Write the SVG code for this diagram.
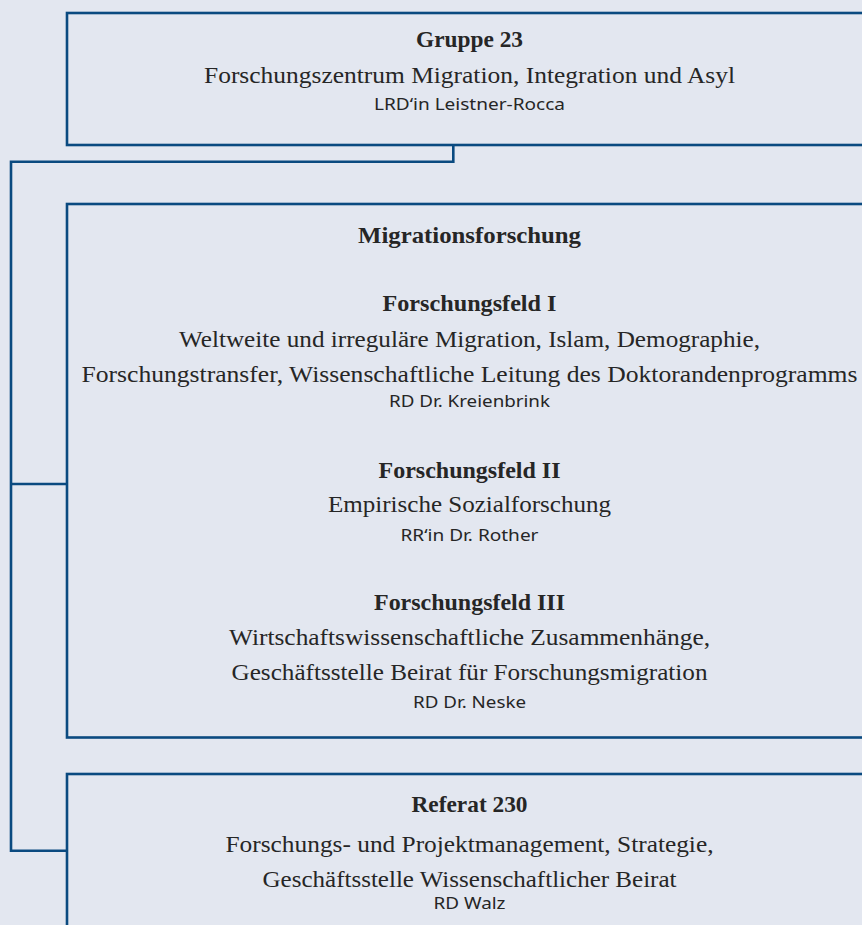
<svg xmlns="http://www.w3.org/2000/svg" width="862" height="925" viewBox="0 0 862 925">
<style>
.box{fill:none;stroke:#0a4a80;stroke-width:2.6}
.con{fill:none;stroke:#0a4a80;stroke-width:2.6}
text{text-anchor:middle;fill:#262626}
.h{font-family:"Liberation Serif",serif;font-weight:bold;font-size:23.5px}
.t{font-family:"Liberation Serif",serif;font-size:24px}
.p{font-family:"Noto Sans","Open Sans",sans-serif;font-size:15.5px}
</style>
<rect width="862" height="925" fill="#e3e7f0"/>
<g id="connectors">
<path class="con" d="M453.3,145 V161.7 H11 V850.7 H67"/>
<path class="con" d="M11,484 H67"/>
</g>
<g id="gruppe23">
<rect class="box" x="67" y="13" width="820" height="132"/>
<text class="h" x="469.5" y="47.2" textLength="107" lengthAdjust="spacingAndGlyphs">Gruppe 23</text>
<text class="t" x="469.5" y="82.8" textLength="531" lengthAdjust="spacingAndGlyphs">Forschungszentrum Migration, Integration und Asyl</text>
<text class="p" x="469.5" y="109.5" textLength="191" lengthAdjust="spacingAndGlyphs">LRD‘in Leistner-Rocca</text>
</g>
<g id="migrationsforschung">
<rect class="box" x="67" y="204" width="820" height="533.5"/>
<text class="h" x="469.5" y="243.2" textLength="223" lengthAdjust="spacingAndGlyphs">Migrationsforschung</text>
<text class="h" x="469.5" y="311.2" textLength="174" lengthAdjust="spacingAndGlyphs">Forschungsfeld I</text>
<text class="t" x="469.5" y="346.5" textLength="581" lengthAdjust="spacingAndGlyphs">Weltweite und irreguläre Migration, Islam, Demographie,</text>
<text class="t" x="469.5" y="382" textLength="776" lengthAdjust="spacingAndGlyphs">Forschungstransfer, Wissenschaftliche Leitung des Doktorandenprogramms</text>
<text class="p" x="469.5" y="407.2" textLength="161" lengthAdjust="spacingAndGlyphs">RD Dr. Kreienbrink</text>
<text class="h" x="469.5" y="477.8" textLength="182" lengthAdjust="spacingAndGlyphs">Forschungsfeld II</text>
<text class="t" x="469.5" y="512.2" textLength="283" lengthAdjust="spacingAndGlyphs">Empirische Sozialforschung</text>
<text class="p" x="469.5" y="541.2" textLength="138" lengthAdjust="spacingAndGlyphs">RR‘in Dr. Rother</text>
<text class="h" x="469.5" y="609.8" textLength="191" lengthAdjust="spacingAndGlyphs">Forschungsfeld III</text>
<text class="t" x="469.5" y="644.5" textLength="481" lengthAdjust="spacingAndGlyphs">Wirtschaftswissenschaftliche Zusammenhänge,</text>
<text class="t" x="469.5" y="679.8" textLength="476" lengthAdjust="spacingAndGlyphs">Geschäftsstelle Beirat für Forschungsmigration</text>
<text class="p" x="469.5" y="708.2" textLength="113" lengthAdjust="spacingAndGlyphs">RD Dr. Neske</text>
</g>
<g id="referat230">
<rect class="box" x="67" y="774" width="820" height="200"/>
<text class="h" x="469.5" y="812" textLength="116" lengthAdjust="spacingAndGlyphs">Referat 230</text>
<text class="t" x="469.5" y="851.5" textLength="488" lengthAdjust="spacingAndGlyphs">Forschungs- und Projektmanagement, Strategie,</text>
<text class="t" x="469.5" y="886.5" textLength="414" lengthAdjust="spacingAndGlyphs">Geschäftsstelle Wissenschaftlicher Beirat</text>
<text class="p" x="469.5" y="908.8" textLength="72" lengthAdjust="spacingAndGlyphs">RD Walz</text>
</g>
</svg>
